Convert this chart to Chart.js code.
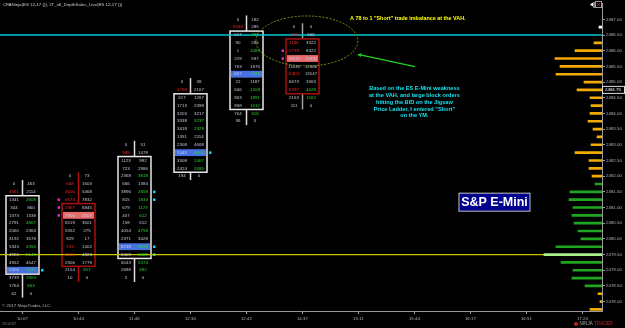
<!DOCTYPE html>
<html>
<head>
<meta charset="utf-8">
<script src="https://cdn.jsdelivr.net/npm/chart.js@4.4.1/dist/chart.umd.min.js"></script>
<style>
html, body { margin: 0; padding: 0; background: #000; }
canvas { display: block; }
</style>
</head>
<body>
<canvas id="chart" width="625" height="328"></canvas>
<script>
// axis labels
const timeLabels = ['10:07', '10:44', '11:46', '12:30', '12:42', '14:37', '15:11', '15:44', '16:17', '16:51', '17:24'];
const priceTicks = [2478.00, 2478.50, 2479.00, 2479.50, 2480.00, 2480.50, 2481.00, 2481.50, 2482.00,
	2482.50, 2483.00, 2483.50, 2484.00, 2484.50, 2485.00, 2485.50, 2486.00, 2486.50, 2487.00];

// footprint bars (one row per 0.25, from the high down)
const colTimes = [0, 1, 2, 3, 4, 5];
const colHighs = [2481.75, 2482.00, 2483.00, 2485.00, 2487.00, 2486.75];
const colOpens = [2479.00, 2481.00, 2479.50, 2482.25, 2484.25, 2486.25];
const colCloses = [2481.25, 2479.25, 2482.50, 2484.50, 2486.50, 2484.75];
const colPocs = [2479.00, 2480.75, 2479.75, 2482.75, 2485.25, 2485.75];

const col1Bid = [0, 4561, 1341, 344, 1373, 2791, 2060, 3192, 5343, 4926, 4952, 5406, 3739, 1764, 62];
const col1Ask = [463, 2114, 2608, 860, 1338, 4807, 2363, 3578, 4355, 5146, 4547, 6116, 2963, 663, 0];
const col2Bid = [0, 668, 4600, 6673, 2967, 7906, 6519, 5352, 829, 743, 4249, 2306, 2154, 10];
const col2Ask = [73, 1603, 5468, 7832, 6845, 6807, 3601, 275, 17, 1402, 4823, 1779, 817, 0];
const col3Bid = [0, 948, 1123, 723, 2368, 666, 3896, 815, 679, 407, 158, 4054, 2371, 8238, 8409, 6043, 2688, 2];
const col3Ask = [51, 1478, 992, 2986, 3818, 1384, 2858, 1834, 1173, 612, 512, 4758, 3428, 6858, 8489, 5374, 682, 0];
const col4Bid = [0, 4758, 617, 1713, 3203, 3338, 3418, 1351, 2308, 7445, 3308, 2424, 194];
const col4Ask = [38, 2167, 1267, 2398, 3217, 5237, 2329, 2114, 4668, 6603, 2467, 2685, 0];
const col5Bid = [0, 6330, 517, 90, 1, 229, 763, 667, 22, 606, 903, 858, 704, 36];
const col5Ask = [182, 285, 761, 286, 1089, 597, 1876, 1788, 1187, 1208, 1891, 1632, 316, 0];
const col6Bid = [0, 413, 1146, 2718, 13631, 11636, 10821, 6673, 6397, 2163, 111];
const col6Ask = [0, 565, 3322, 8322, 14834, 12086, 13147, 3363, 4628, 1562, 0];

// imbalance prices per bar
const bidImbalance = [
	[2481.50],
	[2481.75, 2481.50, 2481.25, 2481.00, 2479.75, 2479.50],
	[2482.75],
	[2484.75],
	[2486.75],
	[2486.50, 2486.25, 2486.00, 2485.25, 2484.75]
];
const askImbalance = [
	[2481.25, 2480.50, 2479.75, 2479.50, 2479.00, 2478.75, 2478.50],
	[2479.00],
	[2482.00, 2481.50, 2481.25, 2481.00, 2480.75, 2480.25, 2479.75, 2479.50, 2479.25, 2479.00],
	[2483.75, 2483.50, 2482.75, 2482.50, 2482.25],
	[2486.50, 2486.00, 2485.25, 2484.75, 2484.50, 2484.25, 2484.00],
	[2484.75, 2484.50]
];
const stackedMarks = [
	[2479.00],
	[2481.25, 2481.00, 2480.75],
	[2481.50, 2481.25, 2479.75, 2479.50],
	[2482.75],
	[],
	[2486.00, 2485.75]
];

// volume profile on the right
const profilePrices = [2486.25, 2486.00, 2485.75, 2485.50, 2485.25, 2485.00, 2484.75, 2484.50, 2484.25, 2484.00,
	2483.75, 2483.50, 2483.25, 2483.00, 2482.75, 2482.50, 2482.25, 2482.00, 2481.75, 2481.50, 2481.25, 2481.00,
	2480.75, 2480.50, 2480.25, 2480.00, 2479.75, 2479.50, 2479.25, 2479.00, 2478.75, 2478.50, 2478.25, 2478.00, 2477.75];
const profileVolume = [800, 2700, 4700, 4200, 4600, 1800, 2500, 1200, 1100, 1200,
	1400, 900, 500, 1100, 2700, 1300, 1300, 1000, 700, 3200, 3300, 2900,
	3000, 2800, 2400, 2100, 4600, 5800, 4100, 2900, 3000, 1700, 400, 200, 1200];
const valueAreaHigh = 2481.75;
const valueAreaLow = 2478.50;
const profilePoc = 2479.50;
const lastTick = [2486.75, 300];

const vahPrice = 2486.50;
const pocLinePrice = 2479.50;
const lastPrice = 2484.75;

const colBids = [col1Bid, col2Bid, col3Bid, col4Bid, col5Bid, col6Bid];
const colAsks = [col1Ask, col2Ask, col3Ask, col4Ask, col5Ask, col6Ask];
const wickColors = ['#dcdcdc', '#b01212', '#dcdcdc', '#dcdcdc', '#dcdcdc', '#a0a0a0'];
const FONT = '"Liberation Sans", Arial, sans-serif';

function profileColor(p) {
	if (p === profilePoc) return '#a6f08c';
	if (p <= valueAreaHigh && p >= valueAreaLow) return '#1fa51f';
	return '#f4aa00';
}

const footprint = {
	id: 'footprint',
	beforeDraw(chart) {
		const c = chart.ctx;
		c.save();
		c.fillStyle = '#000';
		c.fillRect(0, 0, chart.width, chart.height);
		c.restore();
	},
	beforeDatasetsDraw(chart) {
		const c = chart.ctx, x = chart.scales.x, y = chart.scales.y, v = chart.scales.v;
		const area = chart.chartArea;
		const rowH = y.getPixelForValue(2480) - y.getPixelForValue(2480.25);
		const half = 16.5;
		c.save();
		colTimes.forEach((t, k) => {
			const cx = Math.round(x.getPixelForValue(t)) + 0.5;
			const n = colBids[k].length;
			const high = colHighs[k], low = high - (n - 1) * 0.25;
			const up = colCloses[k] >= colOpens[k];
			// wick
			c.strokeStyle = wickColors[k];
			c.lineWidth = 1.5;
			c.beginPath();
			c.moveTo(cx, y.getPixelForValue(high + 0.125));
			c.lineTo(cx, y.getPixelForValue(low - 0.125));
			c.stroke();
			// body
			const bTop = y.getPixelForValue(Math.max(colOpens[k], colCloses[k]) + 0.125);
			const bBot = y.getPixelForValue(Math.min(colOpens[k], colCloses[k]) - 0.125);
			c.fillStyle = '#000';
			c.fillRect(cx - half, bTop, half * 2, bBot - bTop);
			const py = y.getPixelForValue(colPocs[k]);
			c.fillStyle = up ? '#4672e2' : '#e56b6b';
			c.fillRect(cx - half + 1, py - rowH / 2 + 0.5, half * 2 - 2, rowH - 1);
			c.strokeStyle = up ? '#e8e8e8' : '#a81010';
			c.lineWidth = 1.5;
			c.strokeRect(cx - half, bTop, half * 2, bBot - bTop);
			// stacked imbalance marks
			c.fillStyle = up ? '#16d8e8' : '#f020d0';
			stackedMarks[k].forEach(p => {
				const mx = up ? cx + half + 2 : cx - half - 4.5;
				c.fillRect(mx, y.getPixelForValue(p) - 1.2, 2.5, 2.5);
			});
		});
		// cyan VAH line and yellow line into the profile POC
		c.strokeStyle = '#00c8d6';
		c.lineWidth = 1.6;
		c.beginPath();
		c.moveTo(area.left, y.getPixelForValue(vahPrice));
		c.lineTo(area.right, y.getPixelForValue(vahPrice));
		c.stroke();
		const pocVol = profileVolume[profilePrices.indexOf(pocLinePrice)];
		c.strokeStyle = '#c8c400';
		c.lineWidth = 1.3;
		c.beginPath();
		c.moveTo(area.left, y.getPixelForValue(pocLinePrice));
		c.lineTo(v.getPixelForValue(pocVol), y.getPixelForValue(pocLinePrice));
		c.stroke();
		// cell numbers
		c.font = '4.4px ' + FONT;
		c.textAlign = 'center';
		c.textBaseline = 'middle';
		colTimes.forEach((t, k) => {
			const cx = Math.round(x.getPixelForValue(t)) + 0.5;
			colBids[k].forEach((b, i) => {
				const p = colHighs[k] - i * 0.25;
				const py = y.getPixelForValue(p);
				c.fillStyle = bidImbalance[k].includes(p) ? '#ff2424' : '#c6c8dc';
				c.fillText(String(b), cx - 8.5, py);
				c.fillStyle = askImbalance[k].includes(p) ? '#2ed42e' : '#c6c8dc';
				c.fillText(String(colAsks[k][i]), cx + 8.5, py);
			});
		});
		c.restore();
	},
	afterDatasetsDraw(chart) {
		const c = chart.ctx, x = chart.scales.x, y = chart.scales.y;
		c.save();
		// dashed ellipse around the imbalance
		c.strokeStyle = '#7f9216';
		c.lineWidth = 1;
		c.setLineDash([2, 1.5]);
		c.beginPath();
		const ex = x.getPixelForValue(5.08), ey = y.getPixelForValue(2486.31);
		c.ellipse(ex, ey, 51, 25, 0, 0, Math.PI * 2);
		c.stroke();
		c.setLineDash([]);
		// arrow
		const ax0 = x.getPixelForValue(5.99), ay0 = y.getPixelForValue(2485.88);
		const ax1 = x.getPixelForValue(7.01), ay1 = y.getPixelForValue(2485.49);
		c.strokeStyle = '#1ed41e';
		c.fillStyle = '#1ed41e';
		c.lineWidth = 1.2;
		c.beginPath();
		c.moveTo(ax0, ay0);
		c.lineTo(ax1, ay1);
		c.stroke();
		const ang = Math.atan2(ay0 - ay1, ax0 - ax1);
		c.beginPath();
		c.moveTo(ax0, ay0);
		c.lineTo(ax0 - 4 * Math.cos(ang - 0.6), ay0 - 4 * Math.sin(ang - 0.6));
		c.lineTo(ax0 - 4 * Math.cos(ang + 0.6), ay0 - 4 * Math.sin(ang + 0.6));
		c.closePath();
		c.fill();
		// notes
		c.textBaseline = 'middle';
		c.textAlign = 'left';
		c.fillStyle = '#ffff00';
		c.font = 'bold 5.4px ' + FONT;
		c.fillText('A 78 to 1 "Short" trade imbalance at the VAH.', x.getPixelForValue(5.85), y.getPixelForValue(2487.04));
		const lines = ['Based on the ES E-Mini weakness', 'at the VAH, and large block orders',
			'hitting the BID on the Jigsaw', 'Price Ladder, I entered "Short"', 'on the YM.'];
		c.textAlign = 'center';
		c.fillStyle = '#12e2f0';
		c.font = 'bold 5.6px ' + FONT;
		const tx = x.getPixelForValue(7.0), ty = y.getPixelForValue(2484.80);
		lines.forEach((l, i) => c.fillText(l, tx, ty + i * 6.9));
		// instrument label
		const bx = x.getPixelForValue(8.43), by = y.getPixelForValue(2481.17);
		c.fillStyle = '#00008c';
		c.fillRect(bx - 35.5, by - 9, 71, 18);
		c.strokeStyle = '#c0c0c0';
		c.lineWidth = 1;
		c.strokeRect(bx - 35.5, by - 9, 71, 18);
		c.fillStyle = '#ffffff';
		c.font = 'bold 12.5px ' + FONT;
		c.fillText('S&P E-Mini', bx, by + 0.5);
		c.restore();
	},
	afterDraw(chart) {
		const c = chart.ctx, y = chart.scales.y, area = chart.chartArea;
		c.save();
		// last price box on the axis
		const ly = y.getPixelForValue(lastPrice);
		c.fillStyle = '#000';
		c.fillRect(area.right, ly - 3.5, 22, 7);
		c.strokeStyle = '#e0e0e0';
		c.lineWidth = 1;
		c.strokeRect(area.right + 0.5, ly - 3.5, 22, 7);
		c.fillStyle = '#ffffff';
		c.font = '4.4px ' + FONT;
		c.textAlign = 'left';
		c.textBaseline = 'middle';
		c.fillText(lastPrice.toFixed(2), area.right + 3, ly);
		// texts
		c.fillStyle = '#d0d0d0';
		c.fillText('CFANinja(ES 12-17 ()), JT_x6_DepthSales_Live(ES 12-17 ())', 3, 4.5);
		c.fillStyle = '#b8b8b8';
		c.fillText('\u00a9 2017 NinjaTrader, LLC', 2, 305.5);
		c.font = '3.6px ' + FONT;
		c.fillStyle = '#909090';
		c.fillText('15:12:57', 2, 323.5);
		// logo
		c.fillStyle = '#c02020';
		c.beginPath();
		c.arc(576, 324, 2, 0, Math.PI * 2);
		c.fill();
		c.font = '4.6px ' + FONT;
		c.fillStyle = '#a8a8a8';
		c.fillText('NINJA', 579.5, 324);
		c.fillStyle = '#c02020';
		c.fillText('TRADER', 594, 324);
		// close icon top right
		c.strokeStyle = '#9a9a9a';
		c.strokeRect(595.5, 1.5, 6, 6);
		c.strokeStyle = '#d02020';
		c.beginPath();
		c.moveTo(597, 3); c.lineTo(600, 6); c.moveTo(600, 3); c.lineTo(597, 6);
		c.stroke();
		c.fillStyle = '#ffffff';
		c.beginPath();
		c.moveTo(590, 4.5); c.lineTo(593, 2.5); c.lineTo(593, 6.5); c.closePath();
		c.fill();
		c.fillRect(593.5, 2, 1, 6);
		c.restore();
	}
};

const axisColor = '#9a9a9a';
const tickFont = { size: 4.4, family: FONT };

new Chart(document.getElementById('chart'), {
	type: 'bar',
	data: {
		datasets: [{
			label: 'volume',
			indexAxis: 'y',
			xAxisID: 'v',
			yAxisID: 'y',
			grouped: false,
			data: profilePrices.map((p, i) => ({ x: profileVolume[i], y: p })),
			backgroundColor: (ctx) => profileColor(profilePrices[ctx.dataIndex]),
			barThickness: 2
		}, {
			label: 'last',
			indexAxis: 'y',
			xAxisID: 'v',
			yAxisID: 'y',
			grouped: false,
			data: [{ x: lastTick[1], y: lastTick[0] }],
			backgroundColor: '#ffffff',
			barThickness: 2
		}]
	},
	options: {
		indexAxis: 'y',
		responsive: false,
		animation: false,
		devicePixelRatio: 1,
		layout: { padding: 0 },
		plugins: {
			legend: { display: false },
			tooltip: { enabled: false }
		},
		scales: {
			x: {
				type: 'linear',
				position: 'bottom',
				offset: false,
				min: -0.4,
				max: 10.35,
				afterBuildTicks: (s) => { s.ticks = timeLabels.map((_, i) => ({ value: i })); },
				afterFit: (s) => { s.height = 17; },
				ticks: {
					color: '#b0b0b0',
					font: tickFont,
					padding: 2,
					maxRotation: 0,
					autoSkip: false,
					callback: (v) => timeLabels[v]
				},
				grid: { drawOnChartArea: false, offset: false, tickLength: 3, color: axisColor },
				border: { color: axisColor }
			},
			v: {
				type: 'linear',
				axis: 'x',
				display: false,
				offset: false,
				reverse: true,
				min: 0,
				max: 60200
			},
			y: {
				type: 'linear',
				position: 'right',
				offset: false,
				min: 2477.7,
				max: 2487.5,
				afterBuildTicks: (s) => { s.ticks = priceTicks.map(v => ({ value: v })); },
				afterFit: (s) => { s.width = 23; },
				ticks: {
					color: '#b0b0b0',
					font: tickFont,
					padding: 1,
					autoSkip: false,
					callback: (v) => v.toFixed(2)
				},
				grid: { drawOnChartArea: false, offset: false, tickLength: 3, color: axisColor },
				border: { color: axisColor }
			}
		}
	},
	plugins: [footprint]
});
</script>
</body>
</html>
